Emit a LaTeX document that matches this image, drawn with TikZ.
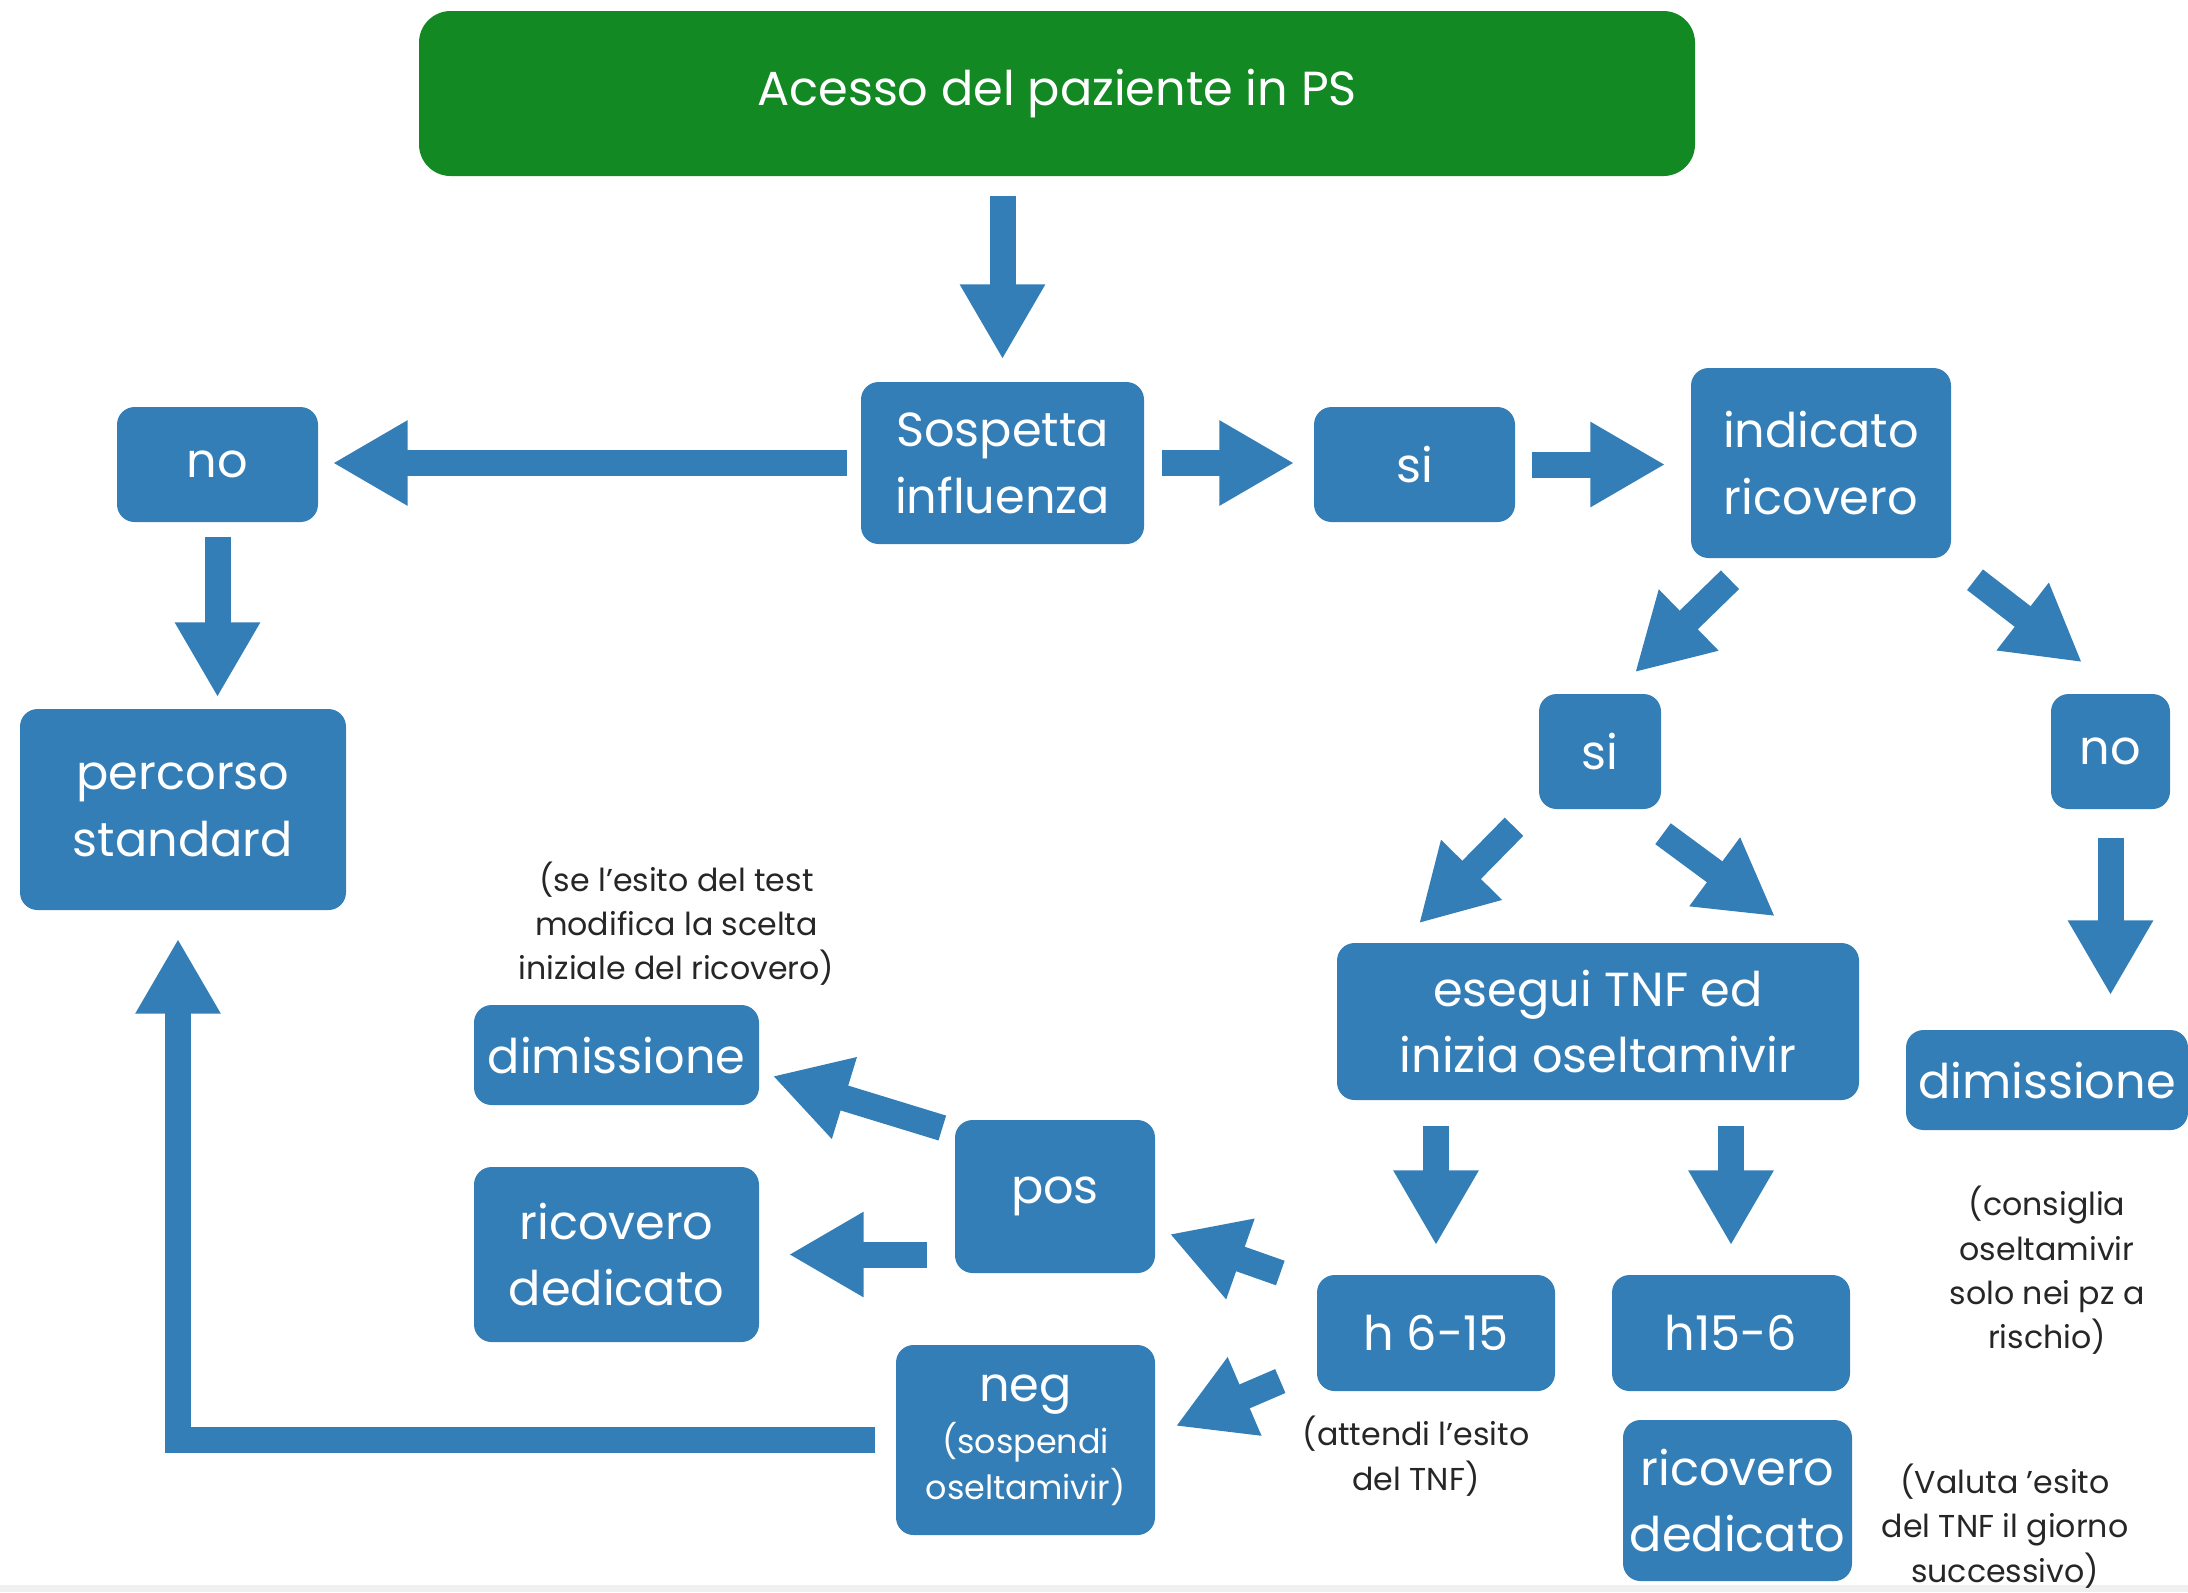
\documentclass[tikz,border=0pt]{standalone}
\usepackage{fontspec}
\setmainfont{Poppins}
\usepackage{xcolor}
\usepackage{tikz}
\usetikzlibrary{arrows.meta,positioning,calc}
\definecolor{boxblue}{RGB}{52,126,183}
\definecolor{boxgreen}{RGB}{18,137,35}
\newcommand{\smalltxt}{\fontsize{9.5}{12.6}\selectfont}
\tikzset{
	box/.style={fill=boxblue, rounded corners=5pt, text=white, align=center, inner sep=0pt, font=\fontsize{13.6}{19}\selectfont},
	headbox/.style={box, fill=boxgreen, rounded corners=9pt},
	note/.style={align=center, inner sep=0pt, text=black!85, font=\fontsize{9}{12.6}\selectfont},
	flow/.style={draw=boxblue, line width=2.6mm, line join=miter, -{Triangle[length=7.5mm, width=8mm]}}
}

\begin{document}
\begin{tikzpicture}
	\useasboundingbox (0,0) rectangle (21.88,-15.92);
	\fill[black!6] (0,-15.85) rectangle (21.88,-15.92);
	\node[headbox, minimum width=12.76cm, minimum height=1.65cm] (acc) at (10.57,-0.935) {Acesso del paziente in PS};
	\node[box, minimum width=2.83cm, minimum height=1.62cm] (sosp) at (10.025,-4.63) {Sospetta\\influenza};
	\node[box, minimum width=2.01cm, minimum height=1.15cm] (noL) at (2.175,-4.645) {no};
	\node[box, minimum width=3.26cm, minimum height=2.01cm] (perc) at (1.83,-8.095) {percorso\\standard};
	\node[box, minimum width=2.01cm, minimum height=1.15cm] (siT) at (14.145,-4.645) {si};
	\node[box, minimum width=2.6cm, minimum height=1.9cm] (indic) at (18.21,-4.63) {indicato\\ricovero};
	\node[box, minimum width=1.22cm, minimum height=1.15cm] (siR) at (16.0,-7.515) {si};
	\node[box, minimum width=1.19cm, minimum height=1.15cm] (noR) at (21.105,-7.515) {no};
	\node[box, minimum width=5.22cm, minimum height=1.57cm] (esegui) at (15.98,-10.215) {esegui TNF ed\\inizia oseltamivir};
	\node[box, minimum width=2.82cm, minimum height=1.0cm] (dimR) at (20.47,-10.8) {dimissione};
	\node[note, below=5.5mm of dimR] (noteCons) {(consiglia\\oseltamivir\\solo nei pz a\\rischio)};
	\node[box, minimum width=2.38cm, minimum height=1.16cm] (h615) at (14.36,-13.33) {h 6-15};
	\node[box, minimum width=2.38cm, minimum height=1.16cm] (h156) at (17.31,-13.33) {h15-6};
	\node[note, below=2.4mm of h615, xshift=-2mm] (noteAtt) {(attendi l’esito\\del TNF)};
	\node[box, minimum width=2.29cm, minimum height=1.61cm] (ricR) at (17.375,-15.005) {ricovero\\dedicato};
	\node[note] (noteVal) at (20.05,-15.26) {(Valuta ’esito\\del TNF il giorno\\successivo)};
	\node[box, minimum width=2.0cm, minimum height=1.53cm] (pos) at (10.55,-11.965) {pos};
	\node[box, minimum width=2.59cm, minimum height=1.9cm] (neg) at (10.255,-14.4) {neg\\[-4pt]{\smalltxt(sospendi}\\[-6pt]{\smalltxt oseltamivir)}};
	\node[box, minimum width=2.85cm, minimum height=1.0cm] (dimL) at (6.165,-10.55) {dimissione};
	\node[note, above=1.8mm of dimL, xshift=6mm] (noteSe) {(se l’esito del test\\modifica la scelta\\iniziale del ricovero)};
	\node[box, minimum width=2.85cm, minimum height=1.75cm] (ricL) at (6.165,-12.545) {ricovero\\dedicato};

	\draw[flow, shorten <=1.9mm, shorten >=2.2mm] (sosp.north |- acc.south) -- (sosp.north);
	\draw[flow, shorten <=1.3mm, shorten >=1.4mm] (sosp.west) -- (sosp.west -| noL.east);
	\draw[flow, shorten <=1.7mm, shorten >=1.9mm] (sosp.east) -- (sosp.east -| siT.west);
	\draw[flow, shorten <=1.6mm, shorten >=2.5mm] (siT.east) -- (siT.east -| indic.west);
	\draw[flow, shorten <=1.4mm, shorten >=1.1mm] (noL.south) -- (noL.south |- perc.north);
	\draw[flow] ([xshift=-0.91cm,yshift=-0.21cm]indic.south) -- ([xshift=0.35cm,yshift=0.21cm]siR.north);
	\draw[flow] ([xshift=1.54cm,yshift=-0.21cm]indic.south) -- ([xshift=-0.285cm,yshift=0.31cm]noR.north);
	\draw[flow] ([xshift=-0.86cm,yshift=-0.17cm]siR.south) -- ([xshift=-1.79cm,yshift=0.19cm]esegui.north);
	\draw[flow] ([xshift=0.63cm,yshift=-0.24cm]siR.south) -- ([xshift=1.77cm,yshift=0.26cm]esegui.north);
	\draw[flow, shorten <=2.8mm, shorten >=3.4mm] (noR.south) -- (noR.south |- dimR.north);
	\draw[flow, shorten <=2.5mm, shorten >=2.9mm] (h615.north |- esegui.south) -- (h615.north);
	\draw[flow, shorten <=2.5mm, shorten >=2.9mm] (h156.north |- esegui.south) -- (h156.north);
	\draw[flow] ([xshift=-0.36cm,yshift=0.6cm]h615.west) -- ([xshift=0.14cm,yshift=-0.375cm]pos.east);
	\draw[flow] ([xshift=-0.36cm,yshift=-0.48cm]h615.west) -- ([xshift=0.2cm,yshift=0.14cm]neg.east);
	\draw[flow] ([xshift=-0.12cm,yshift=0.685cm]pos.west) -- ([xshift=0.13cm,yshift=-0.21cm]dimL.east);
	\draw[flow, shorten <=2.7mm, shorten >=2.9mm] (pos.west |- ricL.east) -- (ricL.east);
	\draw[flow, shorten <=2mm] (neg.west) -| ([xshift=-0.5mm,yshift=-2.8mm]perc.south);
\end{tikzpicture}
\end{document}
